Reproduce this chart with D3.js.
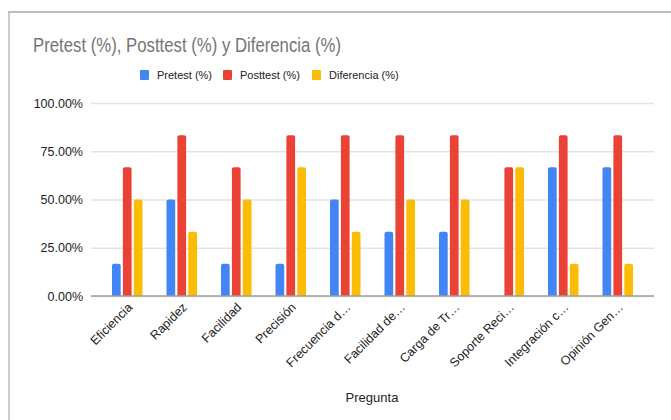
<!DOCTYPE html>
<html>
<head>
<meta charset="utf-8">
<script src="https://cdn.jsdelivr.net/npm/d3@7"></script>
<style>
  body { margin: 0; background: #fff; }
  text { font-family: Arial, "Liberation Sans", sans-serif; }
</style>
</head>
<body>
<svg id="chart" width="671" height="420"></svg>
<script>
var categories = ["Eficiencia", "Rapidez", "Facilidad", "Precisión", "Frecuencia d…",
  "Facilidad de…", "Carga de Tr…", "Soporte Reci…", "Integración c…", "Opinión Gen…"];
var pretest = [16.67, 50, 16.67, 16.67, 50, 33.33, 33.33, 0, 66.67, 66.67];
var posttest = [66.67, 83.33, 66.67, 83.33, 83.33, 83.33, 83.33, 66.67, 83.33, 83.33];
var diferencia = [50, 33.33, 50, 66.67, 33.33, 50, 50, 66.67, 16.67, 16.67];
var seriesNames = ["Pretest (%)", "Posttest (%)", "Diferencia (%)"];
var colors = ["#4285F4", "#EA4335", "#FBBC04"];
var yTicks = [0, 25, 50, 75, 100];

var svg = d3.select("#chart");
var margin = {top: 103, right: 17, bottom: 124, left: 91};
var width = +svg.attr("width"), height = +svg.attr("height");

// frame
svg.append("line").attr("x1", 8).attr("x2", 671).attr("y1", 12).attr("y2", 12)
  .attr("stroke", "#bdbdbd").attr("stroke-width", 2);
svg.append("line").attr("x1", 9).attr("x2", 9).attr("y1", 12).attr("y2", 420)
  .attr("stroke", "#bdbdbd").attr("stroke-width", 1.5);

svg.append("text").attr("x", 33).attr("y", 52)
  .attr("font-size", 20).attr("fill", "#757575")
  .attr("textLength", 308).attr("lengthAdjust", "spacingAndGlyphs")
  .text("Pretest (%), Posttest (%) y Diferencia (%)");

var x = d3.scaleBand().domain(categories)
  .range([margin.left, width - margin.right])
  .paddingInner(0).paddingOuter(0.165);

var x1 = d3.scaleBand().domain(seriesNames)
  .range([0, x.bandwidth()]).paddingInner(0.2).paddingOuter(1.1);

var y = d3.scaleLinear().domain([0, 100])
  .range([height - margin.bottom, margin.top]);

// gridlines
svg.append("g")
  .attr("transform", "translate(" + margin.left + ",0)")
  .call(d3.axisLeft(y).tickValues(yTicks).tickSize(-(width - margin.left - margin.right)).tickFormat(""))
  .call(function(g) {
    g.select(".domain").remove();
    g.selectAll(".tick line").attr("stroke", "#e3e3e3").attr("stroke-width", 1.3);
  });

// y labels
svg.append("g")
  .selectAll("text").data(yTicks).enter().append("text")
  .attr("x", margin.left - 8).attr("y", function(d) { return y(d) + 4.5; })
  .attr("text-anchor", "end").attr("font-size", 12.5).attr("fill", "#222")
  .text(function(d) { return d.toFixed(2) + "%"; });

var rows = categories.map(function(c, i) {
  return {cat: c, vals: [pretest[i], posttest[i], diferencia[i]]};
});

function barPath(x0, y0, w, h, r) {
  if (h <= 0) return "";
  r = Math.min(r, h, w / 2);
  return "M" + x0 + "," + (y0 + h) +
    "V" + (y0 + r) + "Q" + x0 + "," + y0 + " " + (x0 + r) + "," + y0 +
    "H" + (x0 + w - r) + "Q" + (x0 + w) + "," + y0 + " " + (x0 + w) + "," + (y0 + r) +
    "V" + (y0 + h) + "Z";
}

svg.append("g").selectAll("g").data(rows).enter().append("g")
  .attr("transform", function(d) { return "translate(" + x(d.cat) + ",0)"; })
  .selectAll("path").data(function(d) { return d.vals; }).enter().append("path")
  .attr("fill", function(d, i) { return colors[i]; })
  .attr("d", function(d, i) {
    return barPath(x1(seriesNames[i]), y(d), x1.bandwidth(), y(0) - y(d), 2);
  });

// baseline
svg.append("line").attr("x1", margin.left).attr("x2", width - margin.right)
  .attr("y1", y(0)).attr("y2", y(0)).attr("stroke", "#9e9e9e").attr("stroke-width", 1.5);

// x labels
svg.append("g").selectAll("text").data(categories).enter().append("text")
  .attr("transform", function(d) {
    return "translate(" + (x(d) + x.bandwidth() / 2 + 6) + "," + (y(0) + 12) + ") rotate(-45)";
  })
  .attr("text-anchor", "end").attr("font-size", 12.5).attr("fill", "#222")
  .text(function(d) { return d; });

svg.append("text").attr("x", 372).attr("y", 402).attr("text-anchor", "middle")
  .attr("font-size", 13).attr("fill", "#222").text("Pregunta");

// legend
var legendX = [140, 223, 312];
var lg = svg.append("g").selectAll("g").data(seriesNames).enter().append("g")
  .attr("transform", function(d, i) { return "translate(" + legendX[i] + ",70)"; });
lg.append("rect").attr("width", 9).attr("height", 10).attr("rx", 1)
  .attr("fill", function(d, i) { return colors[i]; });
lg.append("text").attr("x", 17).attr("y", 9).attr("font-size", 11).attr("fill", "#222")
  .text(function(d) { return d; });
</script>
</body>
</html>
